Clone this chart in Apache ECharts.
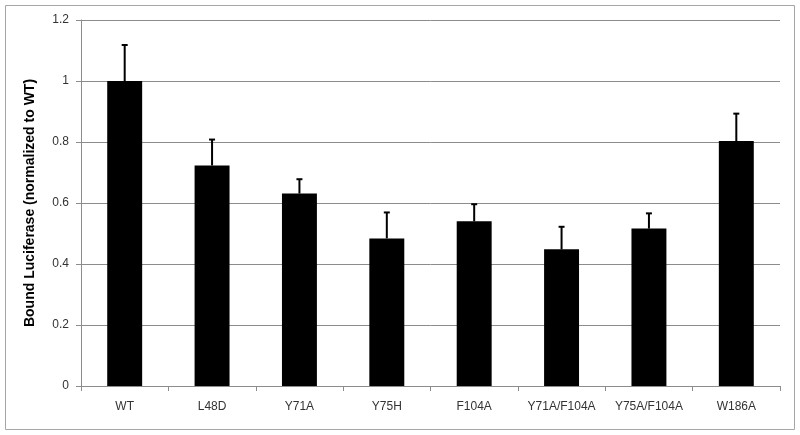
<!DOCTYPE html>
<html>
<head>
<meta charset="utf-8">
<script src="https://cdn.jsdelivr.net/npm/echarts@6/dist/echarts.min.js"></script>
<style>
  html, body { margin: 0; padding: 0; background: #fff; }
  #chart { width: 800px; height: 435px; }
</style>
</head>
<body>
<div id="chart"></div>
<script>
const categories = ['WT', 'L48D', 'Y71A', 'Y75H', 'F104A', 'Y71A/F104A', 'Y75A/F104A', 'W186A']
const means = [1.0, 0.723, 0.631, 0.484, 0.540, 0.448, 0.516, 0.803]
const errors = [0.118, 0.085, 0.047, 0.085, 0.056, 0.074, 0.050, 0.090]

const myChart = echarts.init(document.getElementById('chart'))

const option = {
  backgroundColor: '#ffffff',
  animation: false,
  textStyle: { fontFamily: 'Liberation Sans, Arial, sans-serif' },
  graphic: [
    {
      type: 'rect',
      shape: { x: 5.5, y: 5.5, width: 789, height: 424 },
      style: { fill: 'none', stroke: '#a6a6a6', lineWidth: 1 },
      silent: true,
    },
  ],
  grid: { left: 81, right: 20, top: 20, bottom: 49 },
  xAxis: {
    type: 'category',
    data: categories,
    axisLine: { lineStyle: { color: '#8c8c8c', width: 1 } },
    axisTick: { show: true, interval: 0, length: 5, lineStyle: { color: '#8c8c8c' } },
    axisLabel: { color: '#333', fontSize: 12, margin: 15, interval: 0, hideOverlap: false },
  },
  yAxis: {
    type: 'value',
    min: 0,
    max: 1.2,
    interval: 0.2,
    name: 'Bound Luciferase (normalized to WT)',
    nameLocation: 'middle',
    nameGap: 44,
    nameTextStyle: { color: '#000', fontSize: 14, fontWeight: 'bold' },
    axisLine: { show: true, lineStyle: { color: '#8c8c8c', width: 1 } },
    axisTick: { show: true, length: 5, lineStyle: { color: '#8c8c8c' } },
    axisLabel: {
      color: '#333',
      fontSize: 12,
      margin: 12,
      formatter: (v) => String(Math.round(v * 10) / 10),
    },
    splitLine: { show: true, lineStyle: { color: '#8c8c8c', width: 1 } },
  },
  series: [
    {
      type: 'bar',
      data: means,
      barWidth: '40%',
      itemStyle: { color: '#000' },
      z: 2,
    },
    {
      type: 'custom',
      z: 3,
      data: means.map((m, i) => [i, m, m + errors[i]]),
      renderItem: function (params, api) {
        const i = api.value(0)
        const base = api.coord([i, api.value(1)])
        const top = api.coord([i, api.value(2)])
        const half = 3
        return {
          type: 'group',
          children: [
            {
              type: 'line',
              shape: { x1: base[0], y1: base[1], x2: top[0], y2: top[1] },
              style: { stroke: '#000', lineWidth: 2 },
            },
            {
              type: 'line',
              shape: { x1: top[0] - half, y1: top[1], x2: top[0] + half, y2: top[1] },
              style: { stroke: '#000', lineWidth: 2 },
            },
          ],
        }
      },
    },
  ],
}

myChart.setOption(option)
</script>
</body>
</html>
